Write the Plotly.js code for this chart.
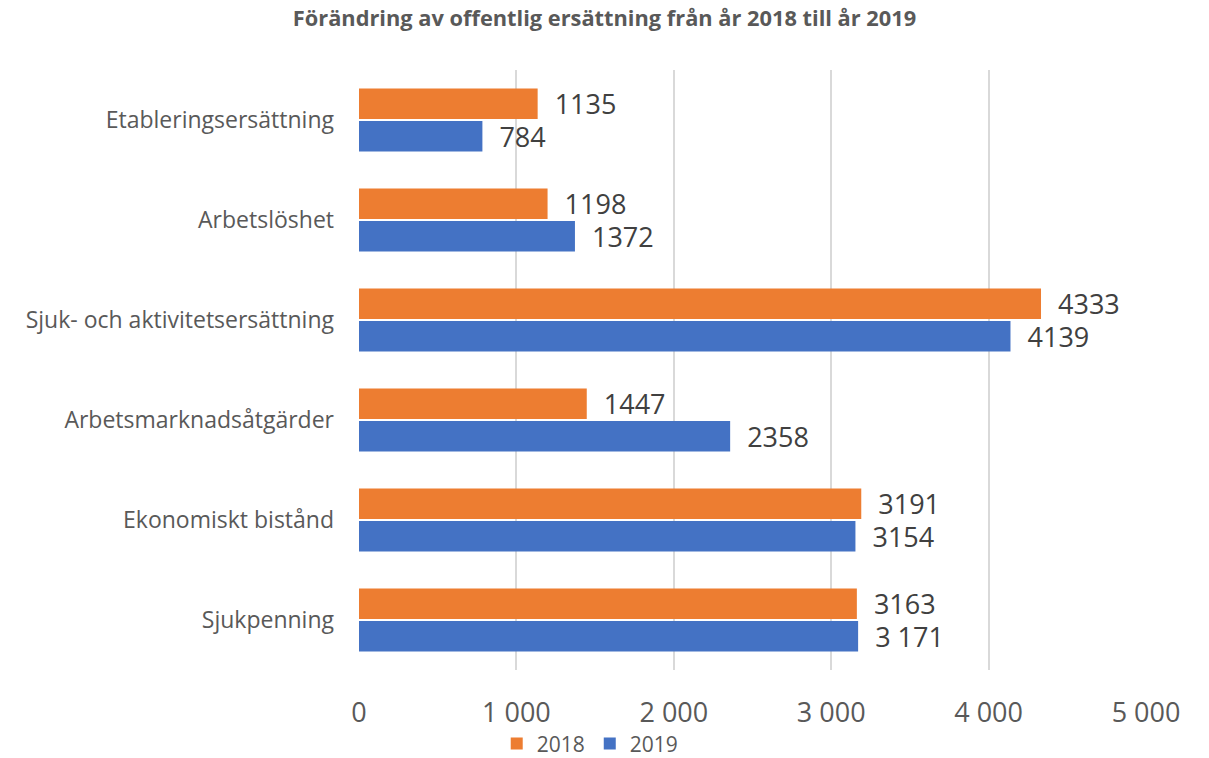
<!DOCTYPE html>
<html>
<head>
<meta charset="utf-8">
<script src="https://cdn.plot.ly/plotly-3.0.1.min.js"></script>
<style>html,body{margin:0;padding:0;background:#fff;}#chart{width:1209px;height:758px;}</style>
</head>
<body>
<div id="chart"></div>
<script>
const categories = ["Etableringsersättning", "Arbetslöshet", "Sjuk- och aktivitetsersättning", "Arbetsmarknadsåtgärder", "Ekonomiskt bistånd", "Sjukpenning"];
const values2018 = [1135, 1198, 4333, 1447, 3191, 3163];
const values2019 = [784, 1372, 4139, 2358, 3154, 3171];
const labels2018 = ["1135", "1198", "4333", "1447", "3191", "3163"];
const labels2019 = ["784", "1372", "4139", "2358", "3154", "3 171"];
const xTickVals = [0, 1000, 2000, 3000, 4000, 5000];
const xTickText = ["0", "1 000", "2 000", "3 000", "4 000", "5 000"];

const font = "'Open Sans', 'Noto Sans', sans-serif";
const pad = "\u00a0\u00a0";

const traces = [
  {
    type: "bar", orientation: "h", name: "2018",
    y: categories, x: values2018,
    text: labels2018.map(t => pad + t), textposition: "outside", cliponaxis: false, constraintext: "none",
    textfont: {family: font, size: 27, color: "#404040"},
    marker: {color: "#ED7D31"}, hoverinfo: "x+y"
  },
  {
    type: "bar", orientation: "h", name: "2019",
    y: categories, x: values2019,
    text: labels2019.map(t => pad + t), textposition: "outside", cliponaxis: false, constraintext: "none",
    textfont: {family: font, size: 27, color: "#404040"},
    marker: {color: "#4472C4"}, hoverinfo: "x+y"
  }
];

const layout = {
  width: 1209, height: 758,
  margin: {l: 359, r: 63, t: 70, b: 88, autoexpand: false},
  paper_bgcolor: "#fff", plot_bgcolor: "#fff",
  title: {text: "<b>Förändring av offentlig ersättning från år 2018 till år 2019</b>",
          font: {family: font, size: 21.8, color: "#595959"},
          x: 0.5, xref: "container", xanchor: "center", y: 1 - 18 / 758, yref: "container", yanchor: "middle"},
  barmode: "group", bargap: 0.35, bargroupgap: 0.06,
  xaxis: {range: [0, 5000], tickvals: xTickVals, ticktext: xTickText, automargin: false,
          showgrid: true, gridcolor: "#d9d9d9", gridwidth: 1.5,
          zeroline: false, showline: false, ticks: "", ticklabelstandoff: 24,
          tickfont: {family: font, size: 27, color: "#595959"}, fixedrange: true},
  yaxis: {autorange: "reversed", type: "category", showgrid: false, zeroline: false, showline: false,
          ticks: "", ticklabelstandoff: 24, automargin: false,
          tickfont: {family: font, size: 23, color: "#595959"}, fixedrange: true},
  legend: {orientation: "h", x: 0.175, xanchor: "left", y: -0.123, yanchor: "middle",
           font: {family: font, size: 21, color: "#595959"}, itemwidth: 30, traceorder: "normal"},
  showlegend: true
};

Plotly.newPlot("chart", traces, layout, {displayModeBar: false, responsive: false});
</script>
</body>
</html>
